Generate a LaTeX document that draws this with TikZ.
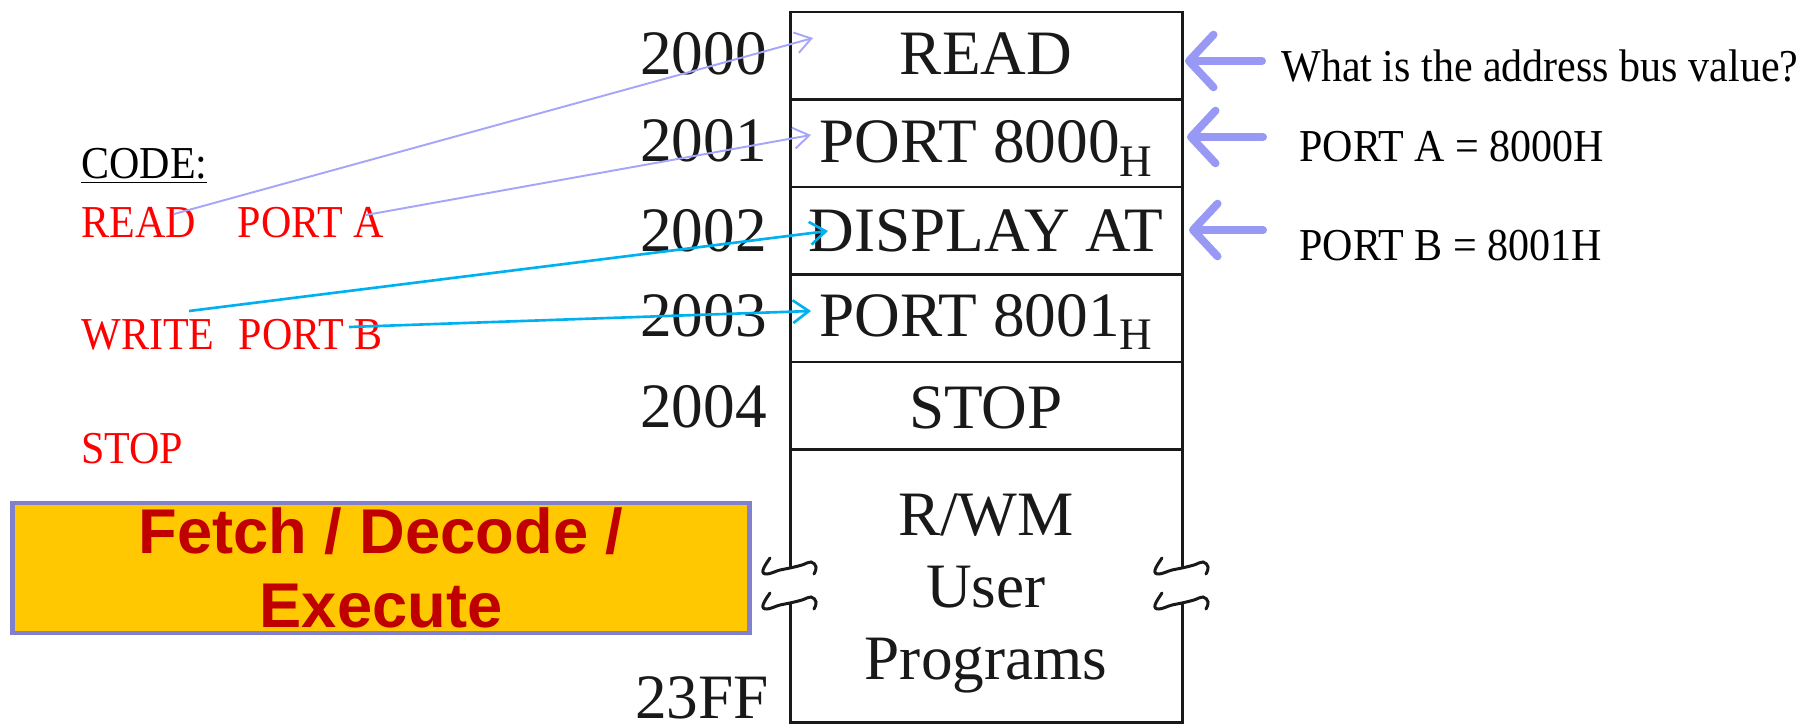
\documentclass[tikz,border=0pt]{standalone}
\usepackage{fontspec}
\setmainfont{Liberation Serif}
\newfontfamily\narrowserif[FakeStretch=0.92]{Liberation Serif}
\newfontfamily\headsans{Liberation Sans}
\usetikzlibrary{arrows.meta}

\definecolor{inkblack}{RGB}{25,25,25}
\definecolor{ptrblue}{RGB}{152,152,245}
\definecolor{linklav}{RGB}{165,165,250}
\definecolor{linkcyan}{RGB}{0,176,240}
\definecolor{codered}{RGB}{255,0,0}
\definecolor{bannerfill}{RGB}{255,200,0}
\definecolor{bannerline}{RGB}{128,128,204}
\definecolor{bannertext}{RGB}{192,0,0}

\tikzset{
  memstroke/.style={draw=inkblack, line width=1.7pt},
  memtext/.style={font=\fontsize{36}{40}\selectfont, text=inkblack, anchor=base, inner sep=0pt},
  addr/.style={font=\fontsize{36}{40}\selectfont, text=inkblack, anchor=base east, inner sep=0pt},
  codetext/.style={font=\narrowserif\fontsize{26}{30}\selectfont, text=codered, anchor=base west, inner sep=0pt},
  notetext/.style={font=\narrowserif\fontsize{26}{30}\selectfont, text=black, anchor=base west, inner sep=0pt},
  pointer/.style={draw=ptrblue, line width=4.5pt, line cap=round,
    -{Straight Barb[length=14pt, width=30pt, round]}},
  lavlink/.style={draw=linklav, line width=1.1pt,
    -{Straight Barb[length=9pt, width=12pt]}},
  cyanlink/.style={draw=linkcyan, line width=1.5pt,
    -{Straight Barb[length=9pt, width=13pt]}},
  banner/.style={draw=bannerline, fill=bannerfill, line width=2.8pt,
    minimum width=14.76cm, minimum height=2.6cm, inner sep=0pt,
    align=center, text=bannertext,
    font=\headsans\bfseries\fontsize{36}{42.5}\selectfont},
  brk/.pic={\draw[memstroke, line cap=round]
    plot[smooth, tension=0.7] coordinates
    {(-20,-10) (-27,2) (-23,6) (-10,2) (0,0) (12,-3) (21,-6) (26,-1) (24,6)};}
}

\begin{document}
\begin{tikzpicture}[x=0.02cm, y=-0.02cm]
\path[use as bounding box] (0,0) rectangle (1814,726);

% memory map outline with broken sides
\draw[memstroke] (790,568) -- (790,12) -- (1182,12) -- (1182,568);
\draw[memstroke] (790,603) -- (790,722) -- (1182,722) -- (1182,603);
\foreach \yy in {99.5,187,274.5,362,449.5}
  \draw[memstroke] (790,\yy) -- (1182,\yy);
\pic at (790,568) {brk};
\pic at (790,603) {brk};
\pic at (1182,568) {brk};
\pic at (1182,603) {brk};

% cell contents
\node[memtext] (m0) at (986,75) {READ};
\node[memtext] (m1) at (986,163) {PORT 8000\raisebox{-7.4pt}{\fontsize{25.7}{28}\selectfont H}};
\node[memtext] (m2) at (986,252) {DISPLAY AT};
\node[memtext] (m3) at (986,336) {PORT 8001\raisebox{-7.4pt}{\fontsize{25.7}{28}\selectfont H}};
\node[memtext] (m4) at (986,428) {STOP};
\node[memtext] (m5) at (986,535) {R/WM};
\node[memtext] (m6) at (986,607) {User};
\node[memtext] (m7) at (986,679) {Programs};

% addresses
\node[addr] (a0) at (767,75) {2000};
\node[addr] (a1) at (767,162) {2001};
\node[addr] (a2) at (767,251) {2002};
\node[addr] (a3) at (767,336) {2003};
\node[addr] (a4) at (767,427) {2004};
\node[addr] (a5) at (769,718) {23FF};

% program listing
\node[notetext] (code) at (81,179) {\underline{CODE:}};
\node[codetext] (l1) at (81,237) {READ\hspace{24pt}PORT A};
\node[codetext] (l2) at (81,349) {WRITE\hspace{14pt}PORT B};
\node[codetext] (l3) at (81,463) {STOP};

% questions on the right
\node[notetext] (q0) at (1281,82) {What is the address bus value?};
\node[notetext] (q1) at (1299,162) {PORT A = 8000H};
\node[notetext] (q2) at (1299,260) {PORT B = 8001H};

% fetch / decode / execute banner
\node[banner] (fde) at (381,568) {Fetch / Decode /\\Execute};

% links from the listing into memory
\coordinate (s0) at (174,214);
\coordinate (s1) at (366,215);
\coordinate (s2) at (189,311);
\coordinate (s3) at (349,327);
\coordinate (t0) at (813,38);
\coordinate (t1) at (811,135);
\coordinate (t2) at (828,231);
\coordinate (t3) at (811,311);
\draw[lavlink] (s0) -- (t0);
\draw[lavlink] (s1) -- (t1);
\draw[cyanlink] (s2) -- (t2);
\draw[cyanlink] (s3) -- (t3);

% pointers from the questions
\coordinate (p0) at (1262,61);
\coordinate (p1) at (1263,137);
\coordinate (p2) at (1263,230);
\coordinate (e0) at (1185,61);
\coordinate (e1) at (1187,137);
\coordinate (e2) at (1189,230);
\draw[pointer] (p0) -- (e0);
\draw[pointer] (p1) -- (e1);
\draw[pointer] (p2) -- (e2);
\end{tikzpicture}
\end{document}
